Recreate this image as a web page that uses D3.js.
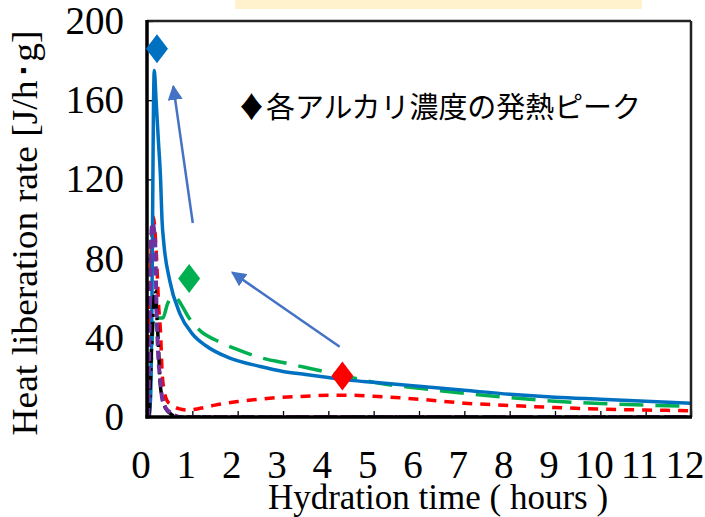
<!DOCTYPE html>
<html><head><meta charset="utf-8">
<script src="https://cdn.jsdelivr.net/npm/d3@7"></script>
<style>body{margin:0;background:#fff}svg{display:block}</style>
</head><body>
<svg id="c" width="705" height="517"></svg>
<script>
// ---- data (hours, J/h·g) ----
const xTicks = [0,1,2,3,4,5,6,7,8,9,10,11,12];
const yTicks = [0,40,80,120,160,200];
const blueData = [[0.04,0],[0.08,10],[0.11,60],[0.14,150],[0.16,175],[0.2,160],[0.25,140],[0.3,120],[0.33,100],[0.37,88],[0.5,69],[0.73,52],[1,42],[1.3,36],[1.8,30],[2.5,25.5],[3,23],[3.5,21.5],[4,20],[4.5,18.5],[5,17.5],[6,15.5],[7,13.5],[8,11.5],[9,10],[10,9],[11,8],[12,7]];
const greenData = [[0.05,0],[0.1,30],[0.15,52],[0.25,50],[0.35,50],[0.45,57],[0.6,61],[0.75,57],[0.9,51],[1.2,43],[1.5,39],[2,34],[2.5,30],[3,27.5],[3.5,25],[4,22.5],[4.5,20],[5,17.5],[6,14.5],[7,12],[8,9.8],[9,8],[10,6.8],[11,6],[12,5.5]];
const redData = [[0.03,0],[0.07,60],[0.11,95],[0.14,101],[0.2,85],[0.26,55],[0.3,42],[0.33,24],[0.38,13],[0.45,8],[0.55,6],[0.7,4.2],[0.9,3.5],[1.2,4.5],[1.5,6],[2,7.8],[2.5,9],[3,10],[3.5,10.5],[4,11],[4.5,11],[5,10.5],[6,9],[7,7],[8,5.8],[9,4.8],[10,4],[11,3.5],[12,3.2]];
const purpleData = [[0.03,0],[0.06,50],[0.09,90],[0.12,98],[0.18,88],[0.21,55],[0.25,30],[0.3,18],[0.33,10],[0.4,5],[0.5,2.5],[0.6,1],[0.75,0],[12,0]];
const blackData = [[0.05,0],[0.1,35],[0.15,58],[0.18,64],[0.22,50],[0.25,37],[0.29,17],[0.35,8.5],[0.42,4],[0.5,2],[0.6,0.5],[0.7,0],[12,0]];
const peakHours = [0.22, 0.93, 4.31];
const peakValues = [186, 70, 20.7];
const peakColors = ["#0070C0","#00B050","#FF0000"];
const arrow1 = [[1.01,98],[0.58,167]];
const arrow2 = [[4.25,35.5],[1.88,73]];
const annotation = "♦各アルカリ濃度の発熱ピーク";
const xTitle = "Hydration time ( hours )";
const yTitle = "Heat liberation rate [J/h･g]";

const svg = d3.select("#c");
const L=147,R=691,T=21,B=417;
const x = d3.scaleLinear().domain([0,12]).range([L,R]);
const y = d3.scaleLinear().domain([0,200]).range([B,T]);

// peach box at top
svg.append("rect").attr("x",235).attr("y",0).attr("width",407).attr("height",9).attr("fill","#FFF2CC");

const defs = svg.append("defs");
defs.append("clipPath").attr("id","clip").append("rect")
  .attr("x",L).attr("y",T-10).attr("width",R-L).attr("height",B-T+10);
defs.append("marker").attr("id","ah").attr("viewBox","0 0 10 10").attr("refX",9).attr("refY",5)
  .attr("markerWidth",6).attr("markerHeight",6).attr("orient","auto-start-reverse")
  .attr("markerUnits","strokeWidth")
  .append("path").attr("d","M0,0L10,5L0,10z").attr("fill","#4472C4");

// axes ticks (inward)
const xAxis = d3.axisBottom(x).tickValues(xTicks).tickSize(-6).tickFormat("");
const yAxis = d3.axisLeft(y).tickValues(yTicks).tickSize(-6).tickFormat("");
const gx = svg.append("g").attr("transform",`translate(0,${B})`).call(xAxis);
const gy = svg.append("g").attr("transform",`translate(${L},0)`).call(yAxis);
[gx,gy].forEach(g=>{g.select(".domain").remove();g.selectAll(".tick line").attr("stroke","#000").attr("stroke-width",1.3);});

// tick labels
svg.append("g").selectAll("text").data(xTicks).join("text")
  .attr("x",d=>x(d)-6).attr("y",478).attr("text-anchor","middle")
  .attr("font-family","Liberation Serif").attr("font-size",39).text(d=>d);
svg.append("g").selectAll("text").data(yTicks).join("text")
  .attr("x",124).attr("y",d=>y(d)+13).attr("text-anchor","end")
  .attr("font-family","Liberation Serif").attr("font-size",39).text(d=>d);

// series
const line = d3.line().x(d=>x(d[0])).y(d=>y(d[1])).curve(d3.curveMonotoneX);
const gs = svg.append("g").attr("clip-path","url(#clip)");
const series = [
  {d:redData,c:"#FF0000",w:3.5,da:"10,8"},
  {d:greenData,c:"#00B050",w:3.5,da:"24,12"},
  {d:blueData,c:"#0070C0",w:3.5,da:null},
  {d:blackData,c:"#000000",w:3.5,da:"14,5,3,5"},
  {d:purpleData,c:"#7030A0",w:4,da:"9,5"}
];
series.forEach(s=>{
  gs.append("path").attr("d",line(s.d)).attr("fill","none").attr("stroke",s.c)
    .attr("stroke-width",s.w).attr("stroke-dasharray",s.da).attr("stroke-linejoin","round");
});

// frame
svg.append("line").attr("x1",L).attr("x2",R).attr("y1",T).attr("y2",T).attr("stroke","#222").attr("stroke-width",2.5);
svg.append("line").attr("x1",R).attr("x2",R).attr("y1",T).attr("y2",B).attr("stroke","#222").attr("stroke-width",2.5);
svg.append("line").attr("x1",L).attr("x2",L).attr("y1",T-1).attr("y2",B+1.5).attr("stroke","#000").attr("stroke-width",3.5);
svg.append("line").attr("x1",L-1.5).attr("x2",R+1).attr("y1",B).attr("y2",B).attr("stroke","#000").attr("stroke-width",3.5);

// peak diamonds
svg.append("g").selectAll("path").data(peakHours).join("path")
  .attr("transform",(d,i)=>`translate(${x(d)},${y(peakValues[i])})`)
  .attr("d","M0,-14.5L11,0L0,14.5L-11,0Z").attr("fill",(d,i)=>peakColors[i]);

// arrows
[arrow1,arrow2].forEach(a=>{
  svg.append("line").attr("x1",x(a[0][0])).attr("y1",y(a[0][1])).attr("x2",x(a[1][0])).attr("y2",y(a[1][1]))
    .attr("stroke","#4472C4").attr("stroke-width",2.5).attr("marker-end","url(#ah)");
});

// annotation
svg.append("text").attr("x",237).attr("y",118)
  .attr("font-family","'Noto Sans CJK JP'").attr("font-size",29)
  .attr("textLength",404).attr("lengthAdjust","spacingAndGlyphs").text(annotation);

// titles
svg.append("text").attr("x",438).attr("y",509).attr("text-anchor","middle")
  .attr("font-family","Liberation Serif").attr("font-size",35).text(xTitle);
svg.append("text").attr("transform","translate(37,233) rotate(-90)").attr("text-anchor","middle")
  .attr("font-family","Liberation Serif").attr("font-size",36)
  .attr("textLength",405).attr("lengthAdjust","spacingAndGlyphs").text(yTitle);
</script>
</body></html>
